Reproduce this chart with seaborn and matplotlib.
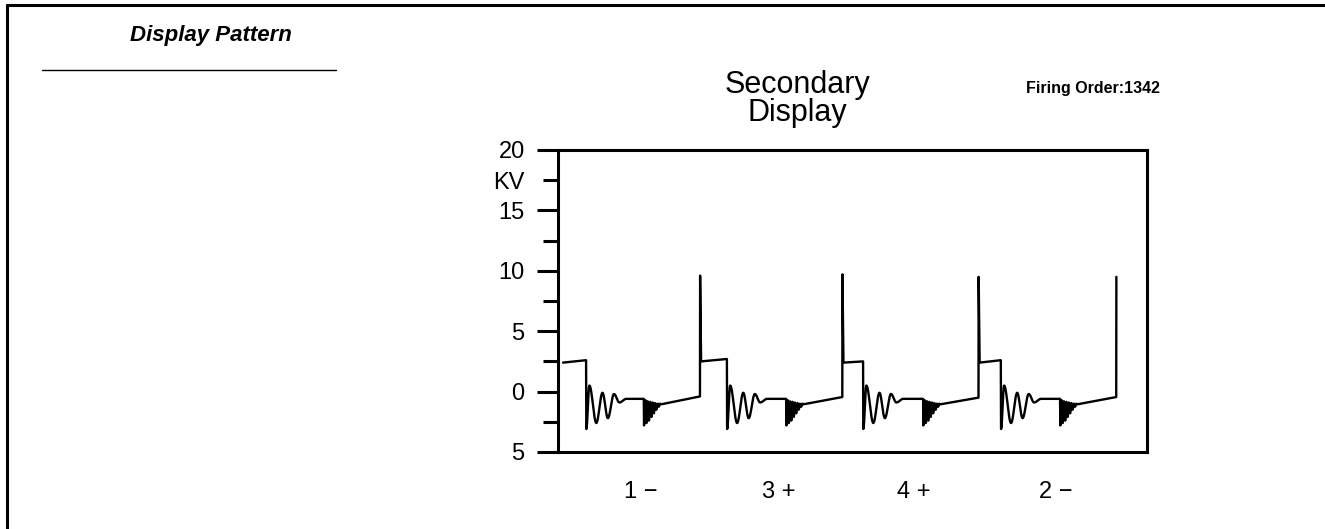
import numpy as np
import pandas as pd
import matplotlib
matplotlib.use("Agg")
import matplotlib.pyplot as plt
from matplotlib.lines import Line2D
import seaborn as sns

# Cylinder labels in firing order and where they sit on the crank-angle axis
cylinders = ["1 \u2212", "3 +", "4 +", "2 \u2212"]
label_deg = [101, 280, 456, 640]

# Event timing per cylinder (crank degrees)
fire_deg = [178, 363, 540, 719]
spark_end_deg = [30, 213, 390, 569]
ring_start_deg = [105, 290, 468, 646]

# Voltage levels per cylinder (kV)
spark_start_kv = [2.4, 2.5, 2.4, 2.4]
spark_end_kv = [2.6, 2.7, 2.5, 2.6]
fire_kv = [9.6, 9.7, 9.5, 9.5]
ramp_end_kv = [-0.4, -0.45, -0.5, -0.45]

# Coil oscillation after the spark ends: turning points (deg offset, kV)
coil_deg = [0, 4, 13, 21, 28, 36, 43, 52]
coil_kv = [-3.1, 0.5, -2.6, -0.1, -2.2, -0.2, -0.9, -0.6]

# Points-close ringing: turning points (deg offset, kV)
ring_deg = [0, 1.6, 3.2, 4.8, 6.4, 8.0, 9.6, 11.2, 12.8, 14.4, 16.0, 17.6, 19.2, 20.8, 22.4]
ring_kv = [-2.8, -0.7, -2.6, -0.8, -2.4, -0.85, -2.1, -0.9, -1.8, -0.95, -1.5, -1.0, -1.25, -1.0, -1.05]

# Y axis ticks
ytick_vals = [-5, 0, 5, 10, 15, 20]
ytick_text = ["5", "0", "5", "10", "15", "20"]
ymid_vals = [-2.5, 2.5, 7.5, 12.5, 17.5]
ymid_text = ["", "", "", "", "KV"]


def swing(t_pts, v_pts, n=24):
    """Join turning points with half-cosine swings."""
    ts, vs = [], []
    for (ta, va), (tb, vb) in zip(zip(t_pts[:-1], v_pts[:-1]), zip(t_pts[1:], v_pts[1:])):
        s = np.linspace(0, 1, n, endpoint=False)
        ts.extend(ta + (tb - ta) * s)
        vs.extend(va + (vb - va) * (1 - np.cos(np.pi * s)) / 2)
    ts.append(t_pts[-1])
    vs.append(v_pts[-1])
    return ts, vs


t_all, v_all = [], []
for i in range(len(cylinders)):
    if i == 0:
        t_all += [0.0]
        v_all += [spark_start_kv[0]]
    else:
        t_all += [fire_deg[i - 1] + 1.5]
        v_all += [spark_start_kv[i]]
    # spark line
    t_all += [spark_end_deg[i]]
    v_all += [spark_end_kv[i]]
    # coil oscillation
    ct, cv = swing([spark_end_deg[i] + 0.3 + d for d in coil_deg], coil_kv)
    t_all += ct
    v_all += cv
    # flat until points close
    t_all += [ring_start_deg[i]]
    v_all += [coil_kv[-1]]
    rt, rv = swing([ring_start_deg[i] + 0.3 + d for d in ring_deg], ring_kv, n=8)
    t_all += rt
    v_all += rv
    # dwell ramp and firing spike
    t_all += [fire_deg[i], fire_deg[i] + 0.2]
    v_all += [ramp_end_kv[i], fire_kv[i]]

trace = pd.DataFrame({"deg": t_all, "kv": v_all})

sns.set_theme(style="white")
plt.rcParams["font.family"] = ["Liberation Sans", "DejaVu Sans"]

fig = plt.figure(figsize=(13.25, 5.29), dpi=100)
W, H = 1325, 529
ax = fig.add_axes([558 / W, 1 - 452 / H, (1147 - 558) / W, (452 - 150) / H])

sns.lineplot(data=trace, x="deg", y="kv", sort=False, estimator=None,
             color="black", linewidth=1.7, ax=ax)

ax.set_xlim(-6.5, 759)
ax.set_ylim(-5, 20)
ax.set_xlabel("")
ax.set_ylabel("")

ax.set_yticks(ytick_vals, labels=ytick_text)
ax.set_yticks(ymid_vals, labels=ymid_text, minor=True)
ax.set_xticks(label_deg, labels=cylinders)

ax.tick_params(axis="y", which="major", direction="out", length=15, width=2.2,
               pad=9, labelsize=17, color="black", labelcolor="black", left=True)
ax.tick_params(axis="y", which="minor", direction="out", length=11, width=2.2,
               pad=13, labelsize=17, color="black", labelcolor="black", left=True)
ax.tick_params(axis="x", which="major", length=0, pad=21, labelsize=17,
               labelcolor="black")

for side in ["left", "right", "top", "bottom"]:
    ax.spines[side].set_visible(True)
    ax.spines[side].set_color("black")
    ax.spines[side].set_linewidth(2.2)

fig.text(797 / W, 1 - 99 / H, "Secondary\nDisplay", ha="center", va="center",
         fontsize=22, linespacing=0.9, color="black")
fig.text(1160 / W, 1 - 88 / H, "Firing Order:1342", ha="right", va="center",
         fontsize=11.5, fontweight="bold", color="black")
fig.text(130 / W, 1 - 35 / H, "Display Pattern", ha="left", va="center",
         fontsize=16, fontweight="bold", fontstyle="italic", color="black")

fig.add_artist(Line2D([42 / W, 336 / W], [1 - 70 / H, 1 - 70 / H],
                      transform=fig.transFigure, color="black", linewidth=1))
fig.add_artist(Line2D([7 / W, 1], [1 - 5 / H, 1 - 5 / H],
                      transform=fig.transFigure, color="black", linewidth=2.2))
fig.add_artist(Line2D([7 / W, 7 / W], [0, 1 - 5 / H],
                      transform=fig.transFigure, color="black", linewidth=2.2))

fig.savefig("out.png", dpi=100, facecolor="white")
